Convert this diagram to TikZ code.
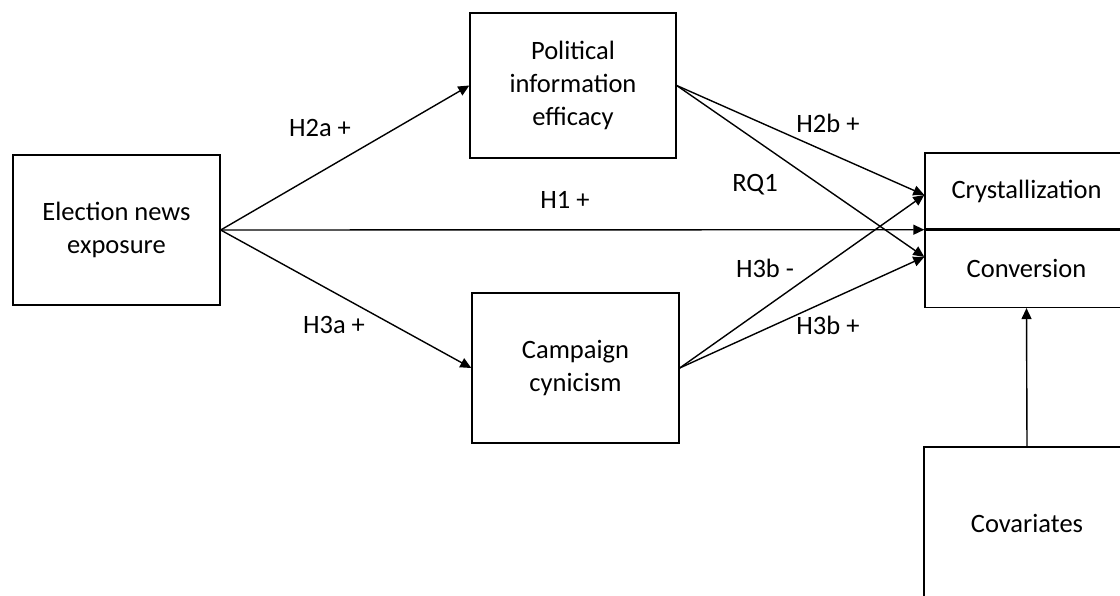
\documentclass[tikz,border=0pt]{standalone}
\usepackage{fontspec}
\setmainfont{Carlito}
\usetikzlibrary{arrows.meta,positioning}

\begin{document}
\begin{tikzpicture}[
            x = 1pt, y = -1pt,
            > = {Triangle[length=11pt,width=10pt]}, % arrow head style
            line width = 1.4pt, % line style
            font = \fontsize{26.5}{33}\selectfont
        ]

        \tikzstyle{box}=[
            draw = black,
            line width = 1.4pt,
            align = center,
            inner sep = 0pt
        ]
        \tikzstyle{lbl}=[
            inner sep = 0pt
        ]

        \useasboundingbox (0,0) rectangle (1120,595);

        \node[box, minimum width=207pt, minimum height=150pt] (E) at (116.5,230) {Election news\\exposure};
        \node[box, minimum width=206pt, minimum height=145pt] (P) at (573,85.5) {Political\\information\\efficacy};
        \node[box, minimum width=207pt, minimum height=150pt] (C) at (575.5,368) {Campaign\\cynicism};
        \node[box, minimum width=203pt, minimum height=76pt] (Cry) at (1026.5,191) {Crystallization};
        \node[box, minimum width=203pt, minimum height=77pt] (Con) [below=0pt of Cry] {Conversion};
        \node[box, minimum width=206pt, minimum height=153pt] (Cov) at (1027,523.5) {Covariates};

        \coordinate (up) at ([yshift=-4pt]Cry.west);
        \coordinate (mid) at (Cry.south west);
        \coordinate (low) at ([yshift=12pt]Con.west);

        \draw[->] (E.east) -- (P.west);
        \draw[->] (E.east) -- (C.west);
        \draw[->] (E.east) -- (mid);
        \draw[->] (P.east) -- (up);
        \draw[->] (P.east) -- (low);
        \draw[->] (C.east) -- (up);
        \draw[->] (C.east) -- (low);
        \draw[->] (Cov.north) -- (Con.south);

        \node[lbl] (h2a) at (320,128) {H2a +};
        \node[lbl] (h3a) at (334,325) {H3a +};
        \node[lbl] (h1) at (565,200) {H1 +};
        \node[lbl] (rq1) at (755,185) {RQ1};
        \node[lbl] (h2b) at (828,123) {H2b +};
        \node[lbl] (h3bm) at (765,268) {H3b -};
        \node[lbl] (h3bp) at (828,325) {H3b +};
    \end{tikzpicture}
\end{document}
